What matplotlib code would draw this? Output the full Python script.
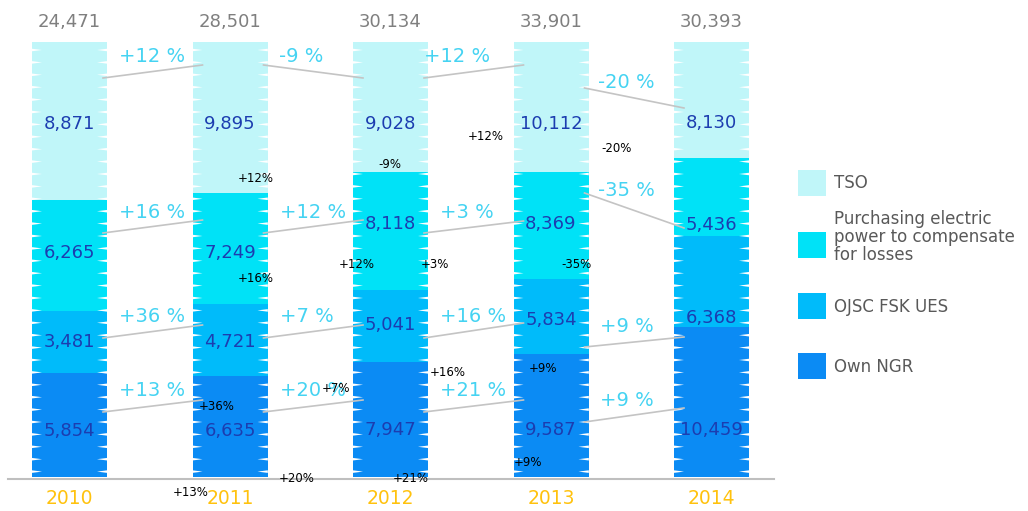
import matplotlib
matplotlib.use("Agg")
import matplotlib.pyplot as plt
from matplotlib.patches import Rectangle

# Dados
anos = ["2010", "2011", "2012", "2013", "2014"]
own_ngr = [5854, 6635, 7947, 9587, 10459]
fsk_ues = [3481, 4721, 5041, 5834, 6368]
perdas = [6265, 7249, 8118, 8369, 5436]
tso = [8871, 9895, 9028, 10112, 8130]
totais = [24471, 28501, 30134, 33901, 30393]

nomes = ["Own NGR", "OJSC FSK UES",
         "Purchasing electric\npower to compensate\nfor losses", "TSO"]
cores = ["#0B8BF4", "#00BBFA", "#00E2F7", "#C0F6F9"]

# rótulos "soltos" (texto preto) que aparecem na imagem original
soltos = [("+12%", 256, 178), ("+16%", 256, 278), ("+12%", 357, 265),
          ("-9%", 390, 165), ("+3%", 435, 265), ("+12%", 486, 137),
          ("-20%", 617, 149), ("-35%", 577, 265), ("+36%", 217, 407),
          ("+7%", 336, 388), ("+16%", 448, 373), ("+9%", 543, 368),
          ("+13%", 191, 493), ("+20%", 297, 479), ("+21%", 411, 479),
          ("+9%", 528, 462)]

# Layout (pixels)
W, H = 1028, 511
X0, PASSO = 69.5, 160.5       # centro da primeira barra e distancia
BASE, TOPO = 477, 42          # base e topo das barras
LARG = 75                     # largura da barra

linha_valor = [[431, 431, 430, 430, 430],
               [342, 342, 325, 320, 318],
               [253, 253, 224, 224, 225],
               [124, 124, 124, 124, 123]]
pct_x = [[119, 280, 440, 600], [119, 280, 440, 600],
         [119, 280, 440, 598], [119, 279, 424, 598]]
pct_y = [[390, 390, 390, 400], [317, 317, 317, 327],
         [213, 213, 213, 190], [56, 56, 56, 82]]
liga_y = [[(412, 400), (412, 400), (412, 400), (422, 408)],
          [(338, 325), (338, 325), (338, 323), (347, 337)],
          [(233, 220), (233, 220), (233, 221), (193, 228)],
          [(78, 65), (65, 78), (78, 65), (88, 108)]]
leg_topo = [353, 293, 232, 170]
leg_texto = [367, 307, 237, 183]


def px_x(i):
    return X0 + PASSO * i


fig = plt.figure(figsize=(W / 100, H / 100), dpi=100)
fig.patch.set_facecolor("white")

# eixo principal: barras 100% empilhadas
ax = fig.add_axes([0, (H - BASE) / H, 1, (BASE - TOPO) / H])
ax.set_xlim(-X0 / PASSO, (W - X0) / PASSO)
ax.set_ylim(0, 1)
ax.axis("off")

series = [own_ngr, fsk_ues, perdas, tso]
x = list(range(len(anos)))
w = LARG / PASSO
base = [0.0] * len(anos)
for s, cor in zip(series, cores):
    parte = [v / t for v, t in zip(s, totais)]
    ax.bar(x, parte, bottom=base, width=w, color=cor, linewidth=0)
    base = [b + p for b, p in zip(base, parte)]

# entalhes brancos nas bordas das barras
prof = 10 / PASSO
meia = 1.3 / (BASE - TOPO)
py = 50.0
while py < BASE - 2:
    yy = (BASE - py) / (BASE - TOPO)
    for i in x:
        xe, xd = i - w / 2, i + w / 2
        ax.fill([xe - 0.002, xe - 0.002, xe + prof], [yy - meia, yy + meia, yy],
                color="white", lw=0)
        ax.fill([xd + 0.002, xd + 0.002, xd - prof], [yy - meia, yy + meia, yy],
                color="white", lw=0)
    py += 12.4

# eixo de sobreposicao em pixels para textos e ligacoes
ov = fig.add_axes([0, 0, 1, 1], facecolor="none")
ov.set_xlim(0, W)
ov.set_ylim(H, 0)
ov.axis("off")

ov.plot([8, 774], [479.5, 479.5], color="#BFBFBF", lw=1.5)

for k, s in enumerate(series):
    for i, v in enumerate(s):
        ov.text(px_x(i), linha_valor[k][i], f"{v:,}", ha="center", va="center",
                fontsize=13, color="#1C3DB0")
    for i in range(len(s) - 1):
        var = round((s[i + 1] / s[i] - 1) * 100)
        ov.text(pct_x[k][i], pct_y[k][i], f"{var:+d} %", ha="left", va="center",
                fontsize=14, color="#45D3F2")
        ya, yb = liga_y[k][i]
        ov.plot([px_x(i) + LARG / 2 - 4, px_x(i + 1) - LARG / 2 + 10], [ya, yb],
                color="#C4C4C4", lw=1.2)

for i, t in enumerate(totais):
    ov.text(px_x(i), 22, f"{t:,}", ha="center", va="center",
            fontsize=13, color="#7F7F7F")
    ov.text(px_x(i), 499, anos[i], ha="center", va="center",
            fontsize=13.5, color="#FFC20E")

for txt, tx, ty in soltos:
    ov.text(tx, ty, txt, ha="center", va="center", fontsize=8.5, color="black")

# legenda
for k in range(4):
    ov.add_patch(Rectangle((798, leg_topo[k]), 28, 26, color=cores[k], lw=0))
    ov.text(834, leg_texto[k], nomes[k], ha="left", va="center",
            fontsize=12, color="#595959", linespacing=1.0)

plt.savefig("out.png", dpi=100)
